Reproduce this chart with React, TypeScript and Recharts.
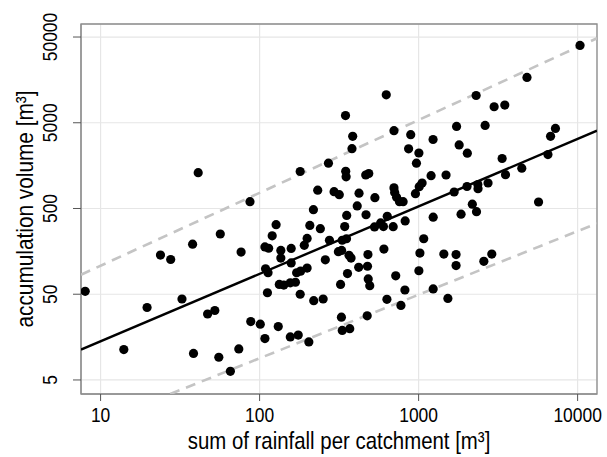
import { ScatterChart, Scatter, XAxis, YAxis, CartesianGrid, ReferenceArea, Label } from 'recharts'

// sum of rainfall per catchment [m³]
const rainfall = [
  8.0, 14, 19.6, 23.8, 27.6, 32.5, 37.9, 38.4, 41.1, 47.1,
  52.3, 55.4, 56.6, 65.5, 74, 76.5, 87, 88, 101, 108,
  108, 114, 109, 113, 112, 120, 127, 131, 136, 136,
  133, 142, 156, 168, 158, 158, 156, 171, 175, 180,
  181, 180, 191, 199, 207, 199, 204, 218, 219, 232,
  241, 251, 259, 271, 275, 294, 317, 313, 328, 323,
  327, 331, 331, 352, 343, 353, 347, 348, 350, 357,
  369, 365, 376, 385, 381, 411, 422, 420, 465, 486,
  467, 477, 480, 482, 493, 475, 528, 531, 577, 601,
  626, 635, 605, 632, 692, 700, 700, 707, 727, 758,
  799, 718, 774, 823, 820, 865, 892, 955, 969, 1004,
  1009, 1052, 1004, 1019, 1077, 1198, 1233, 1235, 1235, 1441,
  1488, 1528, 1673, 1733, 1720, 1720, 1799, 1849, 2025, 2016,
  2177, 2313, 2300, 2358, 2364, 2572, 2620, 2733, 2886, 2985,
  3351, 3484, 3520, 4456, 4803, 5680, 6508, 6758, 7254, 10350,
]

// accumulation volume [m³]
const volume = [
  54, 11.3, 35, 143, 127, 44, 192, 10.2, 1310, 29.4,
  32.3, 9.2, 252, 6.3, 11.5, 155, 600, 24, 22.4, 15.2,
  178, 172, 99, 89, 52, 240, 324, 21, 162, 132,
  65, 64, 68, 69, 171, 116, 15.9, 89, 16.7, 1350,
  93, 50, 186, 224, 317, 101, 13.9, 484, 42, 817,
  291, 44, 126, 1690, 213, 785, 724, 157, 162, 65,
  27, 18.9, 213, 222, 308, 415, 6070, 1360, 1170, 87,
  19.8, 142, 132, 3470, 2490, 536, 754, 103, 1230, 1280,
  423, 106, 145, 75.5, 63, 28, 305, 668, 339, 308,
  10600, 405, 168, 43.6, 307, 4040, 870, 770, 677, 600,
  600, 82, 37, 358, 56, 2480, 3630, 744, 1690, 2220,
  898, 992, 94, 151, 222, 1206, 3190, 396, 57.6, 147,
  1230, 44.7, 779, 4530, 145, 108, 2760, 429, 2210, 903,
  561, 459, 10400, 952, 851, 121, 4660, 992, 147, 7690,
  1915, 8050, 1240, 1476, 16900, 595, 2130, 3470, 4300, 39900,
]

const xTicks = [10, 100, 1000, 10000]
const yTicks = [5, 50, 500, 5000, 50000]
const xDomain = [7.53, 13240]
const yDomain = [3.43, 70950]

// regression line and the two dashed bounds (end points)
const fitX = [7.53, 13240]
const fitY = [11.3, 4040]
const upperX = [7.53, 13240]
const upperY = [84.5, 48400]
const lowerX = [27.4, 13240]
const lowerY = [3.43, 335]

const zip = (xs: number[], ys: number[]) => xs.map((x, i) => ({ x, y: ys[i] }))

const points = zip(rainfall, volume)
const fitLine = zip(fitX, fitY)
const upperLine = zip(upperX, upperY)
const lowerLine = zip(lowerX, lowerY)

// the original uses a condensed sans, so squeeze Liberation Sans along the text
const FONT = "'Liberation Sans', Arial, sans-serif"
const SQUEEZE = 0.85
const FRAME = '#8c8c8c'

const XTick = ({ x, payload }: any) => (
  <text
    transform={`translate(${x} 422) scale(${SQUEEZE} 1)`}
    textAnchor="middle"
    fontSize={20.5}
    fontFamily={FONT}
    fill="#000"
  >
    {payload.value}
  </text>
)

const YTick = ({ y, payload }: any) => (
  <text
    transform={`translate(57 ${y}) rotate(-90) scale(${SQUEEZE} 1)`}
    textAnchor="middle"
    fontSize={20.5}
    fontFamily={FONT}
    fill="#000"
  >
    {payload.value}
  </text>
)

const noDot = () => <g />

export default function App() {
  return (
    <div style={{ position: 'absolute', left: 0, top: 0, width: 607, height: 457, background: '#fff' }}>
      <ScatterChart width={607} height={457} margin={{ top: 24, right: 10, left: 0, bottom: 0 }}>
        <CartesianGrid stroke="#e6e6e6" strokeWidth={1.2} />

        <XAxis
          dataKey="x"
          type="number"
          scale="log"
          domain={xDomain}
          allowDataOverflow
          ticks={xTicks}
          interval={0}
          height={63}
          tickSize={7}
          tickLine={{ stroke: '#555' }}
          axisLine={{ stroke: FRAME }}
          tick={(p: any) => <XTick {...p} />}
        >
          <Label
            content={() => (
              <text
                transform={`translate(339 448.5) scale(${SQUEEZE} 1)`}
                textAnchor="middle"
                fontSize={24}
                fontFamily={FONT}
                fill="#000"
              >
                sum of rainfall per catchment [m³]
              </text>
            )}
          />
        </XAxis>

        <YAxis
          dataKey="y"
          type="number"
          scale="log"
          domain={yDomain}
          allowDataOverflow
          ticks={yTicks}
          interval={0}
          width={81}
          tickSize={8}
          tickLine={{ stroke: '#555' }}
          axisLine={{ stroke: FRAME }}
          tick={(p: any) => <YTick {...p} />}
        >
          <Label
            content={() => (
              <text
                transform={`translate(33 209) rotate(-90) scale(${SQUEEZE} 1)`}
                textAnchor="middle"
                fontSize={24.5}
                fontFamily={FONT}
                fill="#000"
              >
                accumulation volume [m³]
              </text>
            )}
          />
        </YAxis>

        <ReferenceArea
          x1={xDomain[0]}
          x2={xDomain[1]}
          y1={yDomain[0]}
          y2={yDomain[1]}
          fill="none"
          stroke={FRAME}
          strokeWidth={1.3}
          ifOverflow="visible"
        />

        <Scatter
          data={upperLine}
          stroke="#c4c4c4"
          line={{ stroke: '#c4c4c4', strokeWidth: 2.6, strokeDasharray: '10 7' }}
          shape={noDot}
          isAnimationActive={false}
        />
        <Scatter
          data={lowerLine}
          stroke="#c4c4c4"
          line={{ stroke: '#c4c4c4', strokeWidth: 2.6, strokeDasharray: '10 7' }}
          shape={noDot}
          isAnimationActive={false}
        />
        <Scatter
          data={fitLine}
          stroke="#000"
          line={{ stroke: '#000', strokeWidth: 2.4 }}
          shape={noDot}
          isAnimationActive={false}
        />

        <Scatter
          data={points}
          fill="#000"
          shape={(p: any) => <circle cx={p.cx} cy={p.cy} r={4.6} fill="#000" />}
          isAnimationActive={false}
        />
      </ScatterChart>
    </div>
  )
}
